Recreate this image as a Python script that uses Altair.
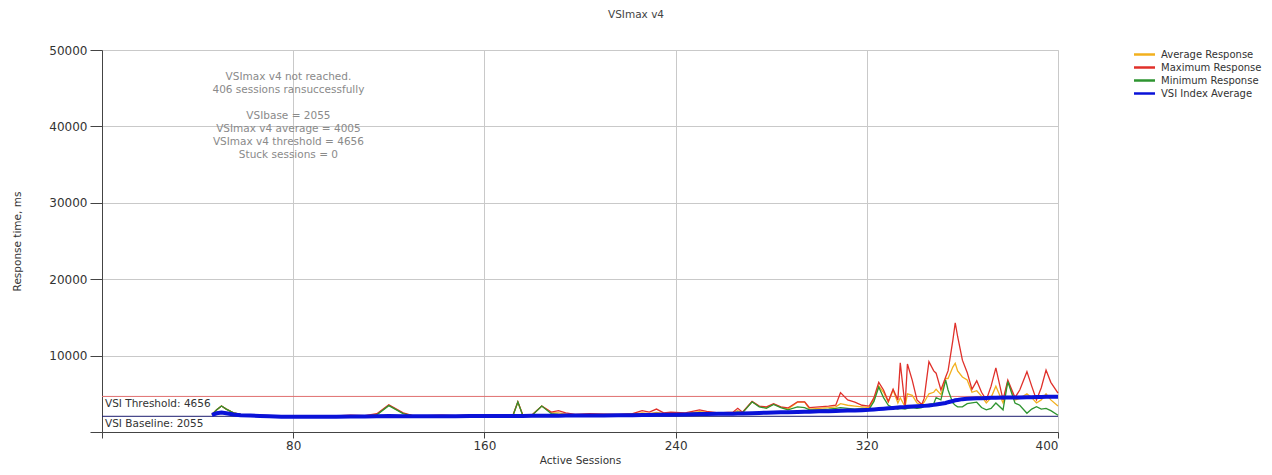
import altair as alt
import pandas as pd

sessions = [46, 48, 50, 52, 55, 58, 62, 66, 70, 75, 80, 86, 92, 98, 104, 110, 115, 120, 126, 130,
            136, 142, 148, 154, 160, 166, 172, 174, 176, 180, 184, 188, 191, 194, 198, 204, 210, 216,
            222, 226, 229, 232, 235, 238, 244, 250, 253, 258, 264, 266, 268, 272, 275, 278, 281, 284,
            287, 291, 294, 296, 300, 304, 307, 309, 312, 315, 318, 321, 323, 325, 327, 329, 331, 333,
            334, 336, 337, 339, 341, 343, 344, 346, 348, 349, 351, 353, 354, 356, 357, 358, 360, 362,
            364, 366, 368, 370, 372, 374, 377, 379, 382, 384, 387, 389, 391, 393, 395, 397, 400]

vsi_index = [2250, 2450, 2550, 2450, 2300, 2200, 2150, 2100, 2050, 2000, 1980, 1990, 2000, 2010, 2020,
             2030, 2050, 2080, 2060, 2050, 2060, 2060, 2070, 2080, 2080, 2090, 2100, 2110, 2110, 2120,
             2130, 2140, 2140, 2150, 2150, 2150, 2160, 2180, 2200, 2220, 2240, 2250, 2260, 2270, 2300,
             2340, 2360, 2380, 2400, 2420, 2430, 2470, 2500, 2530, 2560, 2580, 2600, 2630, 2650, 2660,
             2700, 2730, 2760, 2780, 2800, 2830, 2860, 2900, 2950, 3000, 3050, 3100, 3150, 3200, 3230,
             3270, 3300, 3330, 3370, 3400, 3420, 3480, 3550, 3600, 3700, 3800, 3900, 4050, 4150, 4200,
             4300, 4350, 4400, 4420, 4430, 4450, 4470, 4480, 4500, 4510, 4520, 4530, 4550, 4560, 4570,
             4580, 4600, 4610, 4620]

max_resp = [2300, 2900, 3400, 3000, 2500, 2300, 2250, 2200, 2150, 2080, 2050, 2080, 2100, 2100, 2200,
            2150, 2400, 3550, 2500, 2150, 2150, 2200, 2150, 2200, 2150, 2200, 2250, 3950, 2300, 2250,
            3400, 2600, 2800, 2500, 2300, 2400, 2350, 2300, 2400, 2800, 2600, 3000, 2500, 2600, 2500,
            2900, 2700, 2500, 2600, 3100, 2600, 4000, 3400, 3300, 3700, 3300, 3150, 3950, 3950, 3200,
            3300, 3400, 3500, 5150, 4200, 3900, 3500, 3400, 4500, 6500, 5500, 4000, 5600, 4200, 9050,
            3400, 8900, 6800, 4200, 3600, 4400, 9200, 8000, 7700, 5500, 7200, 8000, 12000, 14300, 12500,
            9400, 7800, 5600, 6700, 5200, 4200, 6000, 8400, 4200, 6800, 4500, 5500, 7900, 6000, 4200,
            5800, 8100, 6500, 5100]

min_resp = [2250, 2900, 3400, 3000, 2500, 2300, 2200, 2150, 2100, 2050, 2000, 2020, 2040, 2050, 2080,
            2080, 2250, 3450, 2400, 2100, 2100, 2120, 2120, 2140, 2120, 2150, 2180, 3950, 2200, 2200,
            3400, 2400, 2300, 2250, 2200, 2250, 2250, 2250, 2300, 2300, 2300, 2320, 2320, 2350, 2380,
            2500, 2450, 2450, 2480, 2600, 2500, 3950, 3300, 3100, 3600, 3200, 2900, 3300, 3200, 2900,
            2900, 3000, 3100, 3200, 3100, 3000, 3100, 3000, 4000, 5900, 4500, 3500, 3200, 3000, 3100,
            3000, 3100, 3200, 3100, 3200, 3400, 3600, 3700, 4500, 4200, 6800, 5500, 3800, 3500, 3300,
            3300, 3700, 3800, 3900, 3200, 2900, 3100, 3800, 2900, 6600, 3800, 3500, 2450, 3000, 3300,
            3000, 3100, 2800, 2200]

avg_resp = [2280, 2900, 3400, 3000, 2500, 2300, 2220, 2170, 2120, 2060, 2020, 2040, 2060, 2070, 2120,
            2100, 2300, 3500, 2450, 2120, 2120, 2150, 2130, 2160, 2130, 2170, 2200, 3900, 2250, 2220,
            3400, 2500, 2500, 2350, 2250, 2300, 2300, 2270, 2350, 2500, 2400, 2550, 2400, 2450, 2420,
            2650, 2550, 2480, 2530, 2800, 2550, 3950, 3350, 3200, 3650, 3250, 3000, 3900, 3900, 3000,
            3100, 3200, 3300, 3700, 3500, 3400, 3300, 3200, 4300, 6000, 5200, 3900, 5500, 3800, 4500,
            3300, 5000, 4800, 3800, 3500, 3900, 5000, 5200, 5600, 4900, 7000, 7000, 8500, 9000, 8000,
            7200, 6800, 5200, 5400, 4700, 3800, 4500, 6000, 3800, 6600, 4200, 4400, 5000, 4500, 3800,
            4200, 5000, 4200, 3400]

series_names = ["Average Response", "Maximum Response", "Minimum Response", "VSI Index Average"]
series_colors = ["#f2b01e", "#e0302a", "#2e9430", "#0a12d8"]

threshold_value = 4656
baseline_value = 2055
ref_labels = ["VSI Threshold: 4656", "VSI Baseline: 2055"]

note_head = ["VSImax v4 not reached.", "406 sessions ransuccessfully"]
note_body = ["VSIbase = 2055", "VSImax v4 average = 4005",
             "VSImax v4 threshold = 4656", "Stuck sessions = 0"]
note_head_top = 47150
note_body_top = 42040
note_center = 78

x_ticks = [0, 80, 160, 240, 320, 400]
y_ticks = [0, 10000, 20000, 30000, 40000, 50000]

FONT = "DejaVu Sans"

rows = []
for name, vals in zip(series_names, [avg_resp, max_resp, min_resp, vsi_index]):
    for s, v in zip(sessions, vals):
        rows.append({"session": s, "value": v, "series": name})
df = pd.DataFrame(rows)

x_enc = alt.X("session:Q",
              scale=alt.Scale(domain=[0, 400], nice=False, zero=False),
              axis=alt.Axis(values=x_ticks, title="Active Sessions",
                            labelExpr="datum.value == 0 ? '' : datum.label",
                            grid=True, gridColor="#c9c9c9", domainColor="#444444",
                            tickColor="#444444", tickSize=6, labelPadding=2,
                            labelFont=FONT, labelFontSize=12, labelColor="#333333",
                            titleFont=FONT, titleFontSize=10.5, titleFontWeight="normal",
                            titleColor="#333333", titlePadding=4))
y_enc = alt.Y("value:Q",
              scale=alt.Scale(domain=[0, 50000], nice=False),
              axis=alt.Axis(values=y_ticks, format="d", title="Response time, ms",
                            labelExpr="datum.value == 0 ? '' : datum.label",
                            grid=True, gridColor="#c9c9c9", domainColor="#444444",
                            tickColor="#444444", tickSize=12, labelPadding=3,
                            labelFont=FONT, labelFontSize=12, labelColor="#333333",
                            titleFont=FONT, titleFontSize=10.5, titleFontWeight="normal",
                            titleColor="#333333", titlePadding=26))

color_enc = alt.Color("series:N",
                      scale=alt.Scale(domain=series_names, range=series_colors),
                      legend=alt.Legend(title=None, orient="none", legendX=1035, legendY=-3,
                                        symbolType="M-1.75,0H1.75", symbolStrokeWidth=2.5,
                                        symbolSize=144, rowPadding=0,
                                        labelFont=FONT, labelFontSize=10,
                                        labelColor="#333333", labelOffset=9))

base_chart = alt.Chart(df)
resp_lines = base_chart.transform_filter(
    alt.datum.series != "VSI Index Average"
).mark_line(strokeWidth=1.3).encode(x=x_enc, y=y_enc, color=color_enc)
vsi_line = base_chart.transform_filter(
    alt.datum.series == "VSI Index Average"
).mark_line(strokeWidth=4).encode(x=x_enc, y=y_enc, color=color_enc)

thr = alt.Chart(pd.DataFrame({"v": [threshold_value]})).mark_rule(
    color="#e07070", strokeWidth=1).encode(y="v:Q")
base = alt.Chart(pd.DataFrame({"v": [baseline_value]})).mark_rule(
    color="#1c1c6e", strokeWidth=1).encode(y="v:Q")

ref_df = pd.DataFrame({"v": [threshold_value, baseline_value], "label": ref_labels})
ref_text = alt.Chart(ref_df).mark_text(
    align="left", baseline="top", dx=3, dy=3, font=FONT, fontSize=10.5, color="#333333"
).encode(x=alt.datum(0), y="v:Q", text="label:N")

note_df = pd.DataFrame({"t": [note_head, note_body], "top": [note_head_top, note_body_top]})
note = alt.Chart(note_df).mark_text(
    align="center", baseline="top", font=FONT, fontSize=10.5, color="#8a8a8a", lineHeight=13
).encode(x=alt.datum(note_center), y="top:Q", text="t")

chart = alt.layer(thr, base, resp_lines, vsi_line, ref_text, note).properties(
    width=956, height=382,
    padding={"left": 94, "top": 42, "right": 206, "bottom": 35},
    autosize=alt.AutoSizeParams(type="none"),
    title=alt.TitleParams("VSImax v4", font=FONT, fontSize=10.5, fontWeight="normal",
                          color="#444444", anchor="middle", dx=56, offset=24),
).configure_view(stroke=None).configure(background="white")

chart.save("out.html", embed_options={"renderer": "svg", "actions": False})
